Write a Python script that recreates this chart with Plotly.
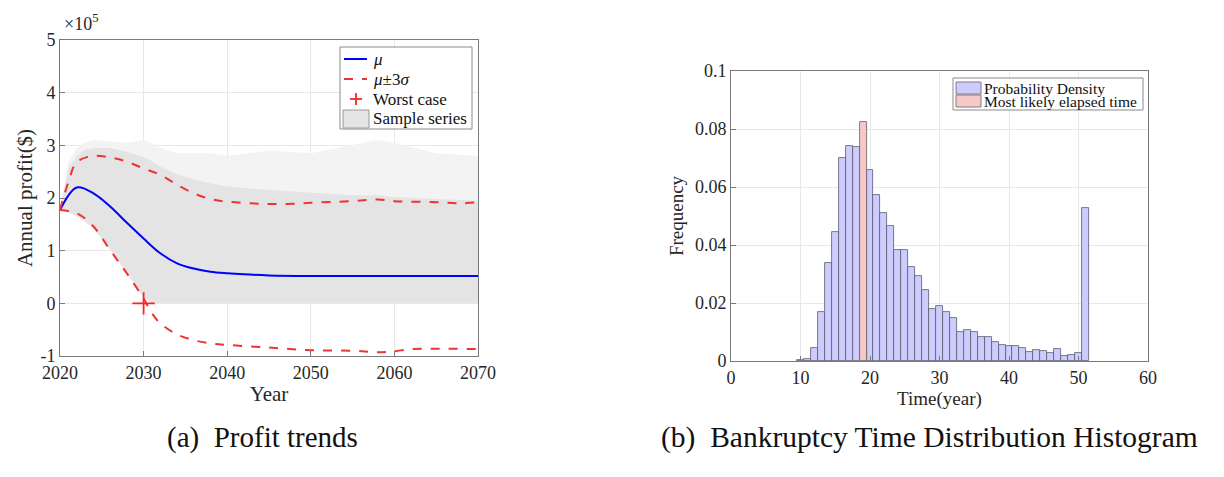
import plotly.graph_objects as go

# ---------------- data: (a) profit trends (values in units of 1e5 $) ----------------
years_mu = [2020, 2022, 2024, 2026, 2028, 2030, 2032, 2034, 2036, 2038, 2040, 2042, 2045, 2050, 2055, 2060, 2065, 2070]
mu = [1.77, 2.20, 2.09, 1.84, 1.53, 1.23, 0.95, 0.76, 0.66, 0.60, 0.57, 0.55, 0.53, 0.52, 0.52, 0.52, 0.52, 0.52]

years_up = [2020, 2021, 2022, 2024, 2026, 2028, 2030, 2032, 2034, 2036, 2038, 2040, 2044, 2048, 2050, 2055, 2058, 2060, 2065, 2068, 2070]
mu_plus = [1.78, 2.30, 2.68, 2.80, 2.77, 2.69, 2.56, 2.44, 2.25, 2.09, 1.98, 1.93, 1.89, 1.89, 1.91, 1.94, 1.97, 1.94, 1.92, 1.90, 1.92]

years_lo = [2020, 2022, 2024, 2026, 2028, 2030, 2031, 2032, 2034, 2036, 2038, 2040, 2045, 2050, 2055, 2058, 2060, 2062, 2070]
mu_minus = [1.77, 1.71, 1.46, 1.01, 0.57, 0.09, -0.19, -0.38, -0.59, -0.70, -0.76, -0.79, -0.84, -0.89, -0.90, -0.93, -0.91, -0.87, -0.87]

worst_year = [2030]
worst_value = [0.0]

# envelope of the sample series (grey band)
years_band = [2020, 2021, 2022, 2023, 2024, 2026, 2028, 2030, 2031, 2032, 2034, 2036, 2038, 2040, 2045, 2050, 2055, 2058, 2060, 2065, 2070]
band_lower = [1.78, 1.72, 1.66, 1.55, 1.42, 1.02, 0.58, 0.12, 0.0, 0.0, 0.0, 0.0, 0.0, 0.0, 0.0, 0.0, 0.0, 0.0, 0.0, 0.0, 0.0]
band_dense_upper = [1.78, 2.55, 2.80, 2.92, 2.95, 2.95, 2.88, 2.78, 2.70, 2.60, 2.45, 2.35, 2.28, 2.22, 2.15, 2.10, 2.05, 2.05, 2.02, 1.98, 1.95]
band_faint_upper = [1.78, 2.70, 2.95, 3.05, 3.10, 3.08, 3.05, 3.10, 3.05, 2.95, 2.85, 2.85, 2.85, 2.80, 2.90, 2.85, 3.00, 3.10, 3.05, 2.85, 2.80]

# ---------------- data: (b) bankruptcy time histogram ----------------
bin_centers = list(range(10, 52))
frequency = [0.0003, 0.0007, 0.0044, 0.0168, 0.0339, 0.0446, 0.0701, 0.0743, 0.0738, 0.0824,
             0.0659, 0.0574, 0.0511, 0.0466, 0.0384, 0.0384, 0.0325, 0.0293, 0.0245, 0.0178,
             0.0191, 0.0169, 0.0147, 0.0101, 0.0107, 0.0101, 0.0082, 0.0082, 0.0064, 0.0055,
             0.0053, 0.0053, 0.0044, 0.0031, 0.0038, 0.0033, 0.0029, 0.0040, 0.0018, 0.0022,
             0.0026, 0.0526]
mode_year = 19

legend_a = ["<i>μ</i>", "<i>μ</i>±3<i>σ</i>", "Worst case", "Sample series"]
legend_b = ["Probability Density", "Most likely elapsed time"]

# ---------------- layout helpers (page pixels -> paper) ----------------
PAGE_W, PAGE_H, OFF = 1224, 477, 8          # the html body has an 8px margin
W, H = PAGE_W - 2 * OFF, PAGE_H - 2 * OFF
def X(px):
    return (px - OFF) / W
def Y(py):
    return 1 - (py - OFF) / H

SERIF = "Liberation Serif, Times New Roman, serif"
INK = "#262626"
def axis_common():
    return dict(showline=True, linecolor="#7a7a7a", linewidth=1, mirror=True,
                ticks="inside", ticklen=5, tickcolor="#7a7a7a",
                showgrid=True, gridcolor="#e8e8e8", gridwidth=1, zeroline=False,
                tickfont=dict(family=SERIF, size=18, color=INK), automargin=False)

BLUE_BAR, RED_BAR = "#ccccff", "#f6c9c9"
BAND_DENSE, BAND_FAINT = "#e4e4e4", "#f3f3f3"

fig = go.Figure()

# sample series band (faint + dense)
fig.add_trace(go.Scatter(x=years_band, y=band_lower, mode="lines", line=dict(width=0),
                         showlegend=False, hoverinfo="skip", xaxis="x", yaxis="y"))
fig.add_trace(go.Scatter(x=years_band, y=band_faint_upper, mode="lines", fill="tonexty",
                         fillcolor=BAND_FAINT, line=dict(width=0),
                         showlegend=False, hoverinfo="skip", xaxis="x", yaxis="y"))
fig.add_trace(go.Scatter(x=years_band, y=band_lower, mode="lines", line=dict(width=0),
                         showlegend=False, hoverinfo="skip", xaxis="x", yaxis="y"))
fig.add_trace(go.Scatter(x=years_band, y=band_dense_upper, mode="lines", fill="tonexty",
                         fillcolor=BAND_DENSE, line=dict(width=0), name=legend_a[3],
                         showlegend=False, hoverinfo="skip", xaxis="x", yaxis="y"))
# mu
fig.add_trace(go.Scatter(x=years_mu, y=mu, mode="lines", line=dict(color="#0000ff", width=2, shape="spline"),
                         name=legend_a[0], showlegend=False, xaxis="x", yaxis="y"))
# mu +/- 3 sigma
for yy, vv in ((years_up, mu_plus), (years_lo, mu_minus)):
    fig.add_trace(go.Scatter(x=yy, y=vv, mode="lines",
                             line=dict(color="#ee3333", width=2, dash="dash", shape="spline"),
                             name=legend_a[1], showlegend=False, xaxis="x", yaxis="y"))
# worst case
fig.add_trace(go.Scatter(x=worst_year, y=worst_value, mode="markers",
                         marker=dict(symbol="cross-thin", size=16, line=dict(color="#ff2222", width=1.8)),
                         name=legend_a[2], showlegend=False, xaxis="x", yaxis="y"))

# histogram bars
blue_x = [c for c in bin_centers if c != mode_year]
blue_y = [f for c, f in zip(bin_centers, frequency) if c != mode_year]
red_x = [c for c in bin_centers if c == mode_year]
red_y = [f for c, f in zip(bin_centers, frequency) if c == mode_year]
fig.add_trace(go.Bar(x=blue_x, y=blue_y, width=1, marker=dict(color=BLUE_BAR, line=dict(color="#5a5a6a", width=0.8)),
                     name=legend_b[0], showlegend=False, xaxis="x2", yaxis="y2"))
fig.add_trace(go.Bar(x=red_x, y=red_y, width=1, marker=dict(color=RED_BAR, line=dict(color="#6a5a5a", width=0.8)),
                     name=legend_b[1], showlegend=False, xaxis="x2", yaxis="y2"))

# ---------------- hand-drawn legends (MATLAB style) ----------------
shapes = []
annotations = []
def rect(x0, y0, x1, y1, fill, line="#8a8a8a", lw=1):
    shapes.append(dict(type="rect", xref="paper", yref="paper", x0=X(x0), x1=X(x1), y0=Y(y1), y1=Y(y0),
                       fillcolor=fill, line=dict(color=line, width=lw), layer="above"))
def hline(x0, x1, y, color, width=2, dash="solid"):
    shapes.append(dict(type="line", xref="paper", yref="paper", x0=X(x0), x1=X(x1), y0=Y(y), y1=Y(y),
                       line=dict(color=color, width=width, dash=dash), layer="above"))
def vline(x, y0, y1, color, width=2):
    shapes.append(dict(type="line", xref="paper", yref="paper", x0=X(x), x1=X(x), y0=Y(y0), y1=Y(y1),
                       line=dict(color=color, width=width), layer="above"))
def label(text, x, y, size):
    annotations.append(dict(text=text, x=X(x), y=Y(y), xref="paper", yref="paper", xanchor="left",
                            yanchor="middle", showarrow=False, font=dict(family=SERIF, size=size, color="#111")))

# legend (a)
rect(340, 47, 472, 129, "white")
rows_a = [59, 79, 99, 119]
hline(344, 367, rows_a[0], "#0000ff", 2)
hline(344, 367, rows_a[1], "#ee3333", 2, "dash")
hline(350, 362, rows_a[2], "#ff2222", 1.8)
vline(356, rows_a[2] - 6, rows_a[2] + 6, "#ff2222", 1.8)
rect(343, 110, 369, 128, BAND_DENSE, line="#9a9a9a", lw=1)
for t, r in zip(legend_a, rows_a):
    label(t, 371, r, 17)

# legend (b)
rect(953, 78, 1143, 110, "white")
rows_b = [88, 102]
rect(956, 82, 981, 94, BLUE_BAR, line="#7a7a8a", lw=1)
rect(956, 95, 981, 107, RED_BAR, line="#8a7a7a", lw=1)
for t, r in zip(legend_b, rows_b):
    label(t, 982, r, 15.5)

# multiplier and captions
annotations.append(dict(text="×10<sup>5</sup>", x=X(62), y=Y(22), xref="paper", yref="paper",
                        xanchor="left", yanchor="middle", showarrow=False,
                        font=dict(family=SERIF, size=18, color=INK)))
annotations.append(dict(text="(a)  Profit trends", x=X(262), y=Y(437), xref="paper", yref="paper",
                        xanchor="center", yanchor="middle", showarrow=False,
                        font=dict(family=SERIF, size=29, color="#111")))
annotations.append(dict(text="(b)  Bankruptcy Time Distribution Histogram", x=X(929), y=Y(437),
                        xref="paper", yref="paper", xanchor="center", yanchor="middle", showarrow=False,
                        font=dict(family=SERIF, size=29.5, color="#111")))

fig.update_layout(
    width=W, height=H, margin=dict(l=0, r=0, t=0, b=0, autoexpand=False),
    paper_bgcolor="white", plot_bgcolor="white",
    barmode="overlay", bargap=0, showlegend=False,
    xaxis=dict(domain=[X(60), X(478)], range=[2020, 2070], tickvals=[2020, 2030, 2040, 2050, 2060, 2070],
               title=dict(text="Year", font=dict(family=SERIF, size=21, color=INK), standoff=4),
               anchor="y", **axis_common()),
    yaxis=dict(domain=[Y(356), Y(40)], range=[-1, 5], tickvals=[-1, 0, 1, 2, 3, 4, 5],
               ticktext=["-1", "0", "1", "2", "3", "4", "5"],
               title=dict(text="Annual profit($)", font=dict(family=SERIF, size=21, color=INK), standoff=2),
               anchor="x", **axis_common()),
    xaxis2=dict(domain=[X(731), X(1148)], range=[0, 60], tickvals=[0, 10, 20, 30, 40, 50, 60],
                title=dict(text="Time(year)", font=dict(family=SERIF, size=19, color=INK), standoff=2),
                anchor="y2", **axis_common()),
    yaxis2=dict(domain=[Y(361), Y(71)], range=[0, 0.1], tickvals=[0, 0.02, 0.04, 0.06, 0.08, 0.1],
                ticktext=["0", "0.02", "0.04", "0.06", "0.08", "0.1"],
                title=dict(text="Frequency", font=dict(family=SERIF, size=19, color=INK), standoff=6),
                anchor="x2", **axis_common()),
    shapes=shapes,
    annotations=annotations,
)

fig.write_html("out.html")
